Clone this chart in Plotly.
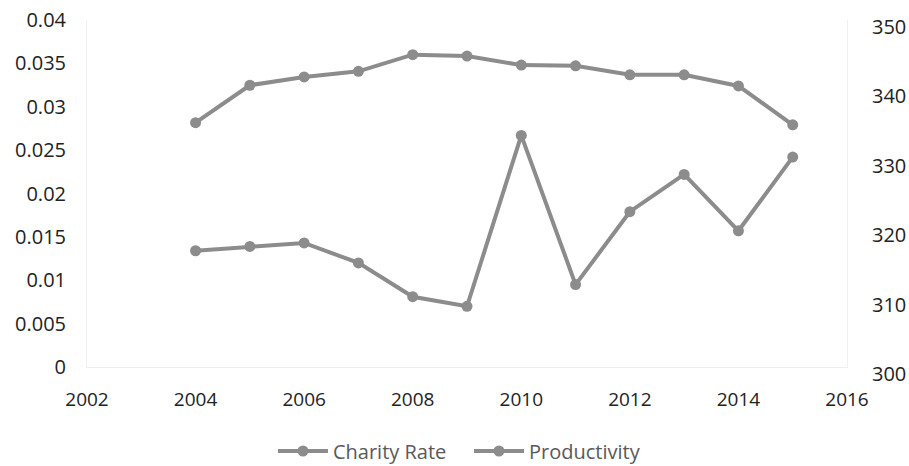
import plotly.graph_objects as go

years = [2004, 2005, 2006, 2007, 2008, 2009, 2010, 2011, 2012, 2013, 2014, 2015]
charity_rate = [0.0134, 0.0139, 0.0143, 0.0120, 0.0081, 0.0070, 0.0267, 0.0095,
                0.0179, 0.0222, 0.0157, 0.0242]
productivity = [335.2, 340.6, 341.8, 342.6, 345.0, 344.8, 343.5, 343.4,
                342.1, 342.1, 340.5, 334.9]

left_ticks = [0, 0.005, 0.01, 0.015, 0.02, 0.025, 0.03, 0.035, 0.04]
left_labels = ["0", "0.005", "0.01", "0.015", "0.02", "0.025", "0.03", "0.035", "0.04"]
right_ticks = [300, 310, 320, 330, 340, 350]
x_ticks = [2002, 2004, 2006, 2008, 2010, 2012, 2014, 2016]

GRAY = "#8c8c8c"
FONT = "Open Sans"

fig = go.Figure()
fig.add_trace(go.Scatter(
    x=years, y=charity_rate, name="Charity Rate", mode="lines+markers",
    line=dict(color=GRAY, width=4), marker=dict(color=GRAY, size=11),
    yaxis="y"))
fig.add_trace(go.Scatter(
    x=years, y=productivity, name="Productivity", mode="lines+markers",
    line=dict(color=GRAY, width=4), marker=dict(color=GRAY, size=11),
    yaxis="y2"))

fig.update_layout(
    width=909, height=466,
    margin=dict(l=87, r=62, t=20, b=99, autoexpand=False),
    paper_bgcolor="white", plot_bgcolor="white",
    font=dict(family=FONT, size=20, color="#222222"),
    showlegend=True,
    legend=dict(orientation="h", x=0.2447, xanchor="left",
                yref="container", y=(466 - 451) / 466, yanchor="middle",
                font=dict(family=FONT, size=20, color="#595959"),
                itemwidth=50, tracegroupgap=0,
                entrywidth=131, entrywidthmode="pixels"),
    xaxis=dict(range=[2002, 2016], tickvals=x_ticks, ticktext=[str(v) for v in x_ticks],
               showgrid=False, zeroline=False, showline=True, linecolor="#efefef",
               linewidth=1, ticks="", ticklabelstandoff=15,
               tickfont=dict(size=19)),
    yaxis=dict(range=[0, 0.04], tickvals=left_ticks, ticktext=left_labels,
               showgrid=False, zeroline=False, showline=True, linecolor="#f0f0f0",
               ticks="", ticklabelstandoff=16),
    yaxis2=dict(range=[300, 350], tickvals=right_ticks, ticktext=[str(v) for v in right_ticks],
                overlaying="y", side="right",
                showgrid=False, zeroline=False, showline=True, linecolor="#f0f0f0",
                ticks="", ticklabelstandoff=20, ticklabelshift=7),
)

fig.write_html("out.html")
